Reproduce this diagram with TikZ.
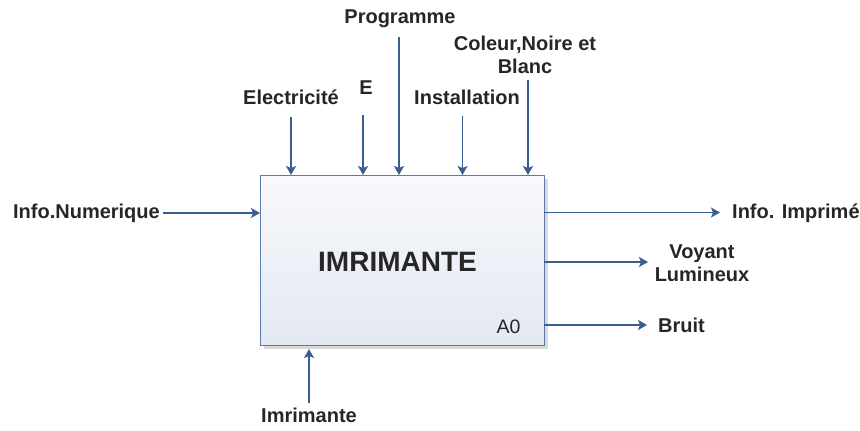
\documentclass[tikz,border=0pt]{standalone}
\usepackage{fontspec}
\setmainfont{Liberation Sans}
\usetikzlibrary{arrows.meta,positioning,calc}
\definecolor{lineblue}{HTML}{3A5F8F}
\definecolor{boxborder}{HTML}{5B7BAA}
\definecolor{txt}{HTML}{262626}
\definecolor{boxtop}{HTML}{F8F9FC}
\definecolor{boxbot}{HTML}{E3E8F1}
\tikzset{
  arr/.style={draw=lineblue,line width=1.4pt,-{Stealth[length=9pt,width=10pt,inset=2pt]}},
  lbl/.style={font=\fontsize{20}{23}\selectfont\bfseries,text=txt,inner sep=0pt,align=center},
}
\begin{document}
\begin{tikzpicture}[x=1pt,y=-1pt]
\useasboundingbox (0,0) rectangle (860,431);
% shadow
\fill[black!15] (264,179) rectangle (548,349);
% main box
\node[draw=boxborder,line width=1.2pt,top color=boxtop,bottom color=boxbot,
      minimum width=284pt,minimum height=170pt,inner sep=0pt,anchor=north west] (box) at (260,175) {};
\node[font=\fontsize{28}{32}\selectfont\bfseries,text=txt] (title) at (397.5,262) {IMRIMANTE};
\node[font=\fontsize{19.5}{22}\selectfont,text=txt,anchor=east] (a0) at (524,327) {A0};
% left input
\node[lbl,anchor=east] (inum) at (160,213) {Info.Numerique};
\draw[arr] (inum.east) ++(3,0) coordinate (inumS) -- (inumS -| box.west);
% top controls
\node[lbl] (elec) at (291,97) {Electricit\'e};
\coordinate (elecS) at (291,117);
\draw[arr] (elecS) -- (elecS |- box.north);
\node[lbl] (e) at (366,88) {E};
\coordinate (eS) at (363,115);
\draw[arr] (eS) -- (eS |- box.north);
\node[lbl] (prog) at (400,19) {Programme};
\coordinate (progS) at (399,37);
\draw[arr] (progS) -- (progS |- box.north);
\node[lbl] (inst) at (467,97) {Installation};
\coordinate (instS) at (462.5,116);
\draw[arr] (instS) -- (instS |- box.north);
\node[lbl] (coul) at (525,55) {Coleur,Noire et\\Blanc};
\coordinate (coulS) at (528,80);
\draw[arr] (coulS) -- (coulS |- box.north);
% bottom mechanism
\node[lbl] (imr) at (309,415) {Imrimante};
\coordinate (imrS) at (309,403);
\draw[arr] (imrS) -- (309,349);
% outputs
\node[lbl,anchor=west] (oinfo) at (732,213) {Info. Imprim\'e};
\coordinate (oinfoS) at (544,212.5);
\draw[arr] (oinfoS) -- (720,212.5);
\node[lbl] (voy) at (702,263) {Voyant\\Lumineux};
\coordinate (voyS) at (544,262);
\draw[arr] (voyS) -- (648,262);
\node[lbl,anchor=west] (bruit) at (658,325) {Bruit};
\coordinate (bruitS) at (544,325);
\draw[arr] (bruitS) -- (647,325);
\end{tikzpicture}
\end{document}
